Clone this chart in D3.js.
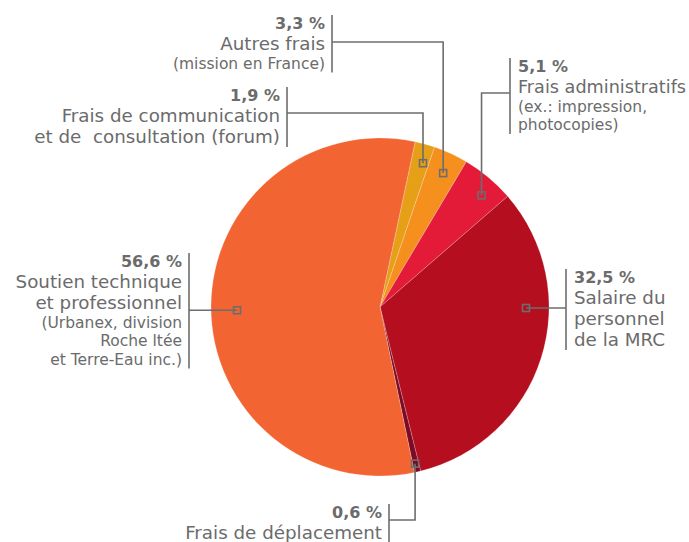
<!DOCTYPE html>
<html>
<head>
<meta charset="utf-8">
<script src="https://cdn.jsdelivr.net/npm/d3@7"></script>
<style>
  body { margin: 0; background: #fff; }
  text { font-family: "Century Gothic", "DejaVu Sans", sans-serif; fill: #6b6b6b; white-space: pre; }
</style>
</head>
<body>
<svg id="chart" width="689" height="542"></svg>
<script>
// valeurs du graphique (ordre horaire)
const categories = ['communication', 'autres', 'administratifs', 'salaire', 'deplacement', 'soutien']
const values = [1.9, 3.3, 5.1, 32.5, 0.6, 56.6]
const pctLabels = ['1,9 %', '3,3 %', '5,1 %', '32,5 %', '0,6 %', '56,6 %']
const mainLines = [
    ['Frais de communication', 'et de  consultation (forum)'],
    ['Autres frais'],
    ['Frais administratifs'],
    ['Salaire du', 'personnel', 'de la MRC'],
    ['Frais de déplacement'],
    ['Soutien technique', 'et professionnel']
]
const subLines = [
    [],
    ['(mission en France)'],
    ['(ex.: impression,', 'photocopies)'],
    [],
    [],
    ['(Urbanex, division', 'Roche ltée', 'et Terre-Eau inc.)']
]
const colors = ['#e5a018', '#f5901f', '#e31b38', '#b50e1f', '#7c0a25', '#f26532']

// mise en page des étiquettes
const layout = [
    { side: 'left',  barX: 287, y0: 101, elbowY: 113, at: 0.68, rf: 0.888 },
    { side: 'left',  barX: 332, y0: 29,  elbowY: 42,  at: 0.54, rf: 0.876 },
    { side: 'right', barX: 510, y0: 72,  elbowY: 93,  at: 0.63, rf: 0.893 },
    { side: 'right', barX: 566, y0: 283, elbowY: null, at: 0.353, rf: 0.864 },
    { side: 'left',  barX: 389, y0: 518, elbowY: 520, at: 0.6, rf: 0.95 },
    { side: 'left',  barX: 189, y0: 267, elbowY: null, at: 0.493, rf: 0.846 }
]

const W = 689
const svg = d3.select('#chart')
const cx = 380, cy = 307, radius = 169
const start = 12 * Math.PI / 180

const pie = d3.pie().sort(null).value(d => d)
    .startAngle(start).endAngle(start + 2 * Math.PI)
const arcs = pie(values)
const arc = d3.arc().innerRadius(0).outerRadius(radius)

const g = svg.append('g').attr('transform', `translate(${cx},${cy})`)

g.selectAll('path.slice')
    .data(arcs)
    .enter().append('path')
    .attr('class', 'slice')
    .attr('d', arc)
    .attr('fill', (d, i) => colors[i])
    .attr('stroke', 'rgba(255,255,255,0.35)')
    .attr('stroke-width', 0.6)

const lineColor = '#6d6d6d'

// réduit la police si le texte dépasse le bord droit
const fit = function (sel, x, size) {
    const w = sel.node().getComputedTextLength()
    const room = W - 3 - x
    if (sel.attr('text-anchor') === 'start' && w > room) {
        sel.attr('font-size', size * room / w)
    }
}

arcs.forEach((a, i) => {
    const L = layout[i]
    const ang = a.startAngle + (a.endAngle - a.startAngle) * L.at
    const mx = cx + Math.sin(ang) * radius * L.rf
    const my = cy - Math.cos(ang) * radius * L.rf
    const ey = L.elbowY == null ? my : L.elbowY

    // connecteur
    svg.append('path')
        .attr('d', `M${L.barX},${ey}H${mx}V${my}`)
        .attr('fill', 'none')
        .attr('stroke', lineColor)
        .attr('stroke-width', 1.6)

    svg.append('rect')
        .attr('x', mx - 3.5).attr('y', my - 3.5)
        .attr('width', 7).attr('height', 7)
        .attr('fill', 'none')
        .attr('stroke', lineColor)
        .attr('stroke-width', 1.6)

    // texte
    const tx = L.side === 'left' ? L.barX - 7 : L.barX + 8
    const anchor = L.side === 'left' ? 'end' : 'start'
    let y = L.y0
    const t = svg.append('g')
    t.append('text').attr('x', tx).attr('y', y)
        .attr('text-anchor', anchor)
        .attr('font-size', 16).attr('font-weight', 'bold')
        .text(pctLabels[i])
    mainLines[i].forEach(s => {
        y += 21
        const el = t.append('text').attr('x', tx).attr('y', y)
            .attr('text-anchor', anchor).attr('font-size', 18.3).text(s)
        fit(el, tx, 18.3)
    })
    subLines[i].forEach(s => {
        y += 18.5
        const el = t.append('text').attr('x', tx).attr('y', y)
            .attr('text-anchor', anchor).attr('font-size', 15.5).text(s)
        fit(el, tx, 15.5)
    })

    svg.append('line')
        .attr('x1', L.barX).attr('x2', L.barX)
        .attr('y1', L.y0 - 14).attr('y2', y + 4)
        .attr('stroke', lineColor)
        .attr('stroke-width', 1.6)
})
</script>
</body>
</html>
